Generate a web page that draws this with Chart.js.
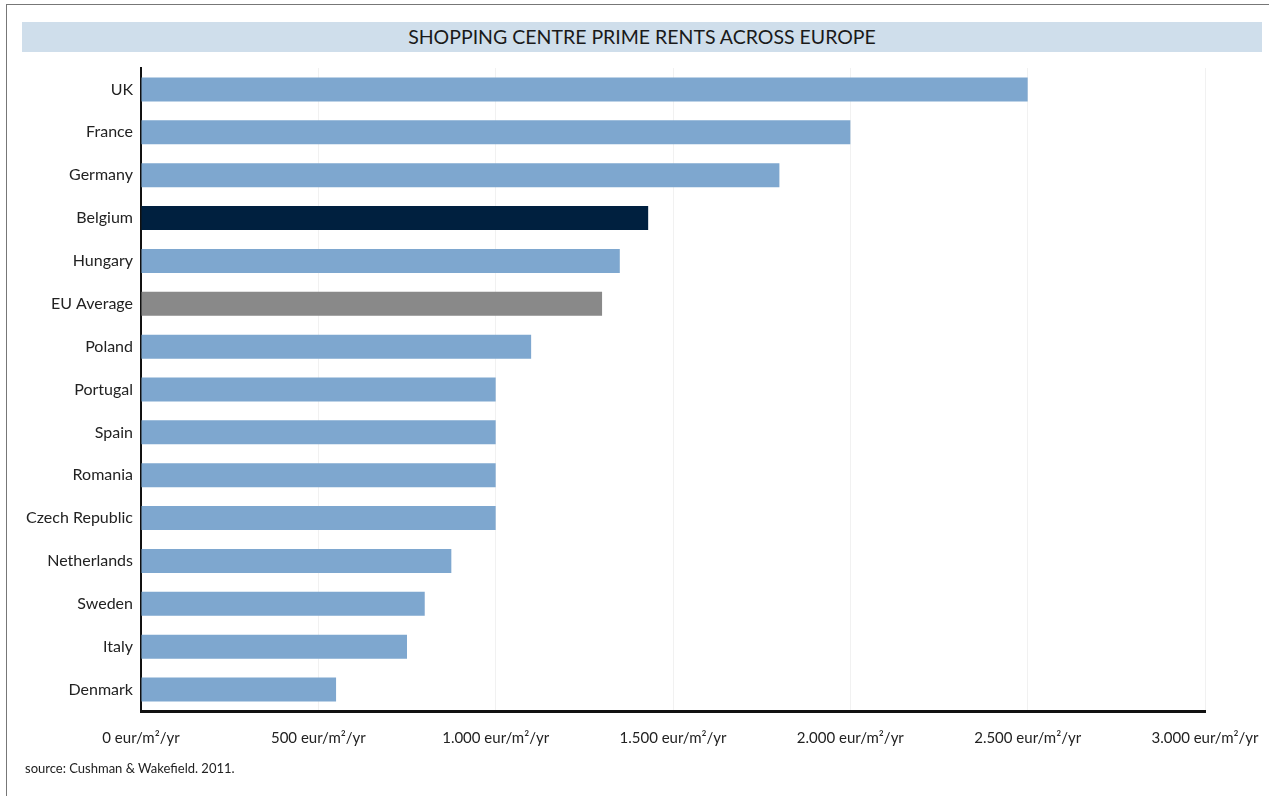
<!DOCTYPE html>
<html lang="en">
<head>
  <meta charset="UTF-8">
  <title>Shopping Centre Prime Rents Across Europe</title>
  <script src="https://cdn.jsdelivr.net/npm/chart.js"></script>
  <style>
    body {
      margin: 0;
      background: #fff;
      font-family: 'Lato', sans-serif;
      color: #222;
      overflow: hidden;
    }
    .frame {
      position: absolute;
      left: 6px;
      top: 4px;
      width: 1262px;
      height: 800px;
      border-top: 1px solid #777;
      border-left: 1px solid #777;
    }
    .title-band {
      position: absolute;
      left: 22px;
      top: 22px;
      width: 1240px;
      height: 30px;
      background: #cfdeeb;
      text-align: center;
      line-height: 30px;
      font-size: 19.5px;
      color: #1a1a1a;
    }
    .source {
      position: absolute;
      left: 25px;
      top: 760px;
      font-size: 13px;
      color: #222;
    }
    #wrap {
      position: absolute;
      left: 0;
      top: 0;
      width: 1279px;
      height: 796px;
    }
  </style>
</head>
<body>
  <div class="frame"></div>
  <div class="title-band">SHOPPING CENTRE PRIME RENTS ACROSS EUROPE</div>
  <div id="wrap"><canvas id="rents"></canvas></div>
  <div class="source">source: Cushman &amp; Wakefield. 2011.</div>

  <script>
    const countries = ['UK', 'France', 'Germany', 'Belgium', 'Hungary', 'EU Average', 'Poland',
      'Portugal', 'Spain', 'Romania', 'Czech Republic', 'Netherlands', 'Sweden', 'Italy', 'Denmark'];
    const rents = [2500, 2000, 1800, 1430, 1350, 1300, 1100, 1000, 1000, 1000, 1000, 875, 800, 750, 550];
    const xTicks = [0, 500, 1000, 1500, 2000, 2500, 3000];

    const barColor = c => c === 'Belgium' ? '#00203f' : c === 'EU Average' ? '#898989' : '#7ea7cf';
    const fmt = v => v.toString().replace(/\B(?=(\d{3})+(?!\d))/g, '.') + ' eur/m\u00b2/yr';

    Chart.defaults.font.family = 'Lato, sans-serif';
    Chart.defaults.color = '#222';

    new Chart(document.getElementById('rents'), {
      type: 'bar',
      data: {
        labels: countries,
        datasets: [{
          data: rents,
          backgroundColor: countries.map(barColor),
          categoryPercentage: 1,
          barPercentage: 0.56
        }]
      },
      options: {
        indexAxis: 'y',
        responsive: true,
        maintainAspectRatio: false,
        animation: false,
        layout: { padding: { left: 0, top: 68, right: 74, bottom: 35 } },
        plugins: { legend: { display: false }, tooltip: { enabled: false } },
        scales: {
          x: {
            min: 0,
            max: 3000,
            afterBuildTicks: s => { s.ticks = xTicks.map(v => ({ value: v })); },
            afterFit: s => { s.height = 50; },
            grid: {
              color: ctx => ctx.tick && ctx.tick.value === 0 ? 'rgba(0,0,0,0)' : '#f1f1f1',
              lineWidth: 1,
              drawTicks: false
            },
            border: { color: '#111', width: 3 },
            ticks: { padding: 18, font: { size: 15 }, callback: v => fmt(v), maxRotation: 0 }
          },
          y: {
            afterFit: s => { s.width = 141; },
            grid: { display: false, drawTicks: false },
            border: { color: '#111', width: 2 },
            ticks: { padding: 8, font: { size: 16 } }
          }
        }
      }
    });
  </script>
</body>
</html>
